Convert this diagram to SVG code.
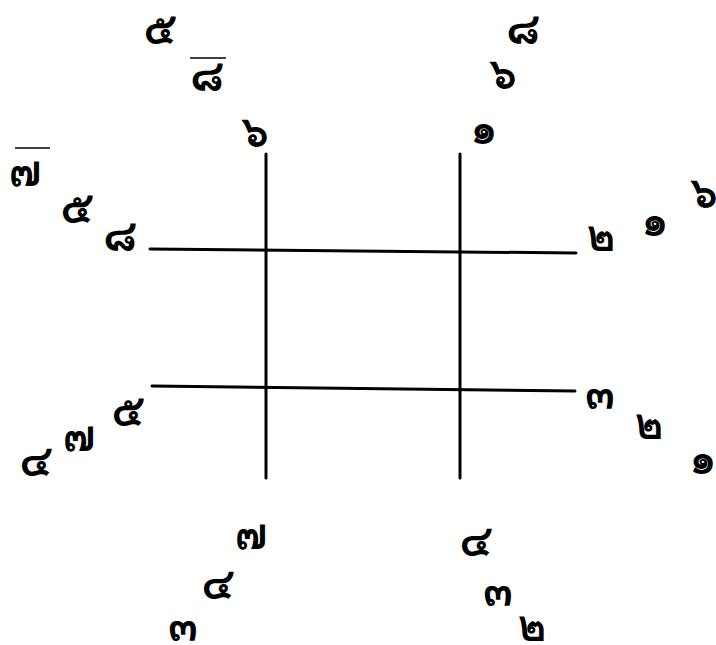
<svg xmlns="http://www.w3.org/2000/svg" width="716" height="645" viewBox="0 0 716 645">
<style>
.d{font-family:"Loma","Garuda","Norasi","Noto Sans Thai","Noto Sans","DejaVu Sans","Liberation Sans",sans-serif;font-size:44px;font-weight:bold;fill:#000;text-anchor:middle}
.ln{stroke:#000;stroke-width:3;stroke-linecap:round;fill:none}
.tk{stroke:#000;stroke-width:1.5;fill:none}
</style>
<rect width="716" height="645" fill="#fff"/>
<g id="connectors">
<line class="ln" x1="266" y1="154" x2="266" y2="478"/>
<line class="ln" x1="460" y1="154" x2="460" y2="478"/>
<line class="ln" x1="150" y1="249" x2="576" y2="253"/>
<line class="ln" x1="152" y1="386" x2="575" y2="391"/>
<line class="tk" x1="190" y1="58" x2="226" y2="58"/>
<line class="tk" x1="15" y1="148" x2="50" y2="148"/>
</g>
<g id="top-left">
<text class="d" x="160" y="44">๕</text>
<text class="d" x="207" y="91">๘</text>
<text class="d" x="255" y="147">๖</text>
</g>
<g id="top-right">
<text class="d" x="523" y="44">๘</text>
<text class="d" x="503" y="89">๖</text>
<text class="d" x="484" y="144">๑</text>
</g>
<g id="left-upper">
<text class="d" x="25" y="186">๗</text>
<text class="d" x="77" y="223">๕</text>
<text class="d" x="120" y="251">๘</text>
</g>
<g id="right-upper">
<text class="d" x="601" y="251">๒</text>
<text class="d" x="655" y="236">๑</text>
<text class="d" x="704" y="208">๖</text>
</g>
<g id="left-lower">
<text class="d" x="128" y="426">๕</text>
<text class="d" x="79" y="451">๗</text>
<text class="d" x="36" y="476">๔</text>
</g>
<g id="right-lower">
<text class="d" x="600" y="409">๓</text>
<text class="d" x="649" y="439">๒</text>
<text class="d" x="703" y="474">๑</text>
</g>
<g id="bottom-left">
<text class="d" x="251" y="549">๗</text>
<text class="d" x="218" y="599">๔</text>
<text class="d" x="183" y="641">๓</text>
</g>
<g id="bottom-right">
<text class="d" x="476" y="556">๔</text>
<text class="d" x="498" y="606">๓</text>
<text class="d" x="532" y="641">๒</text>
</g>
</svg>
